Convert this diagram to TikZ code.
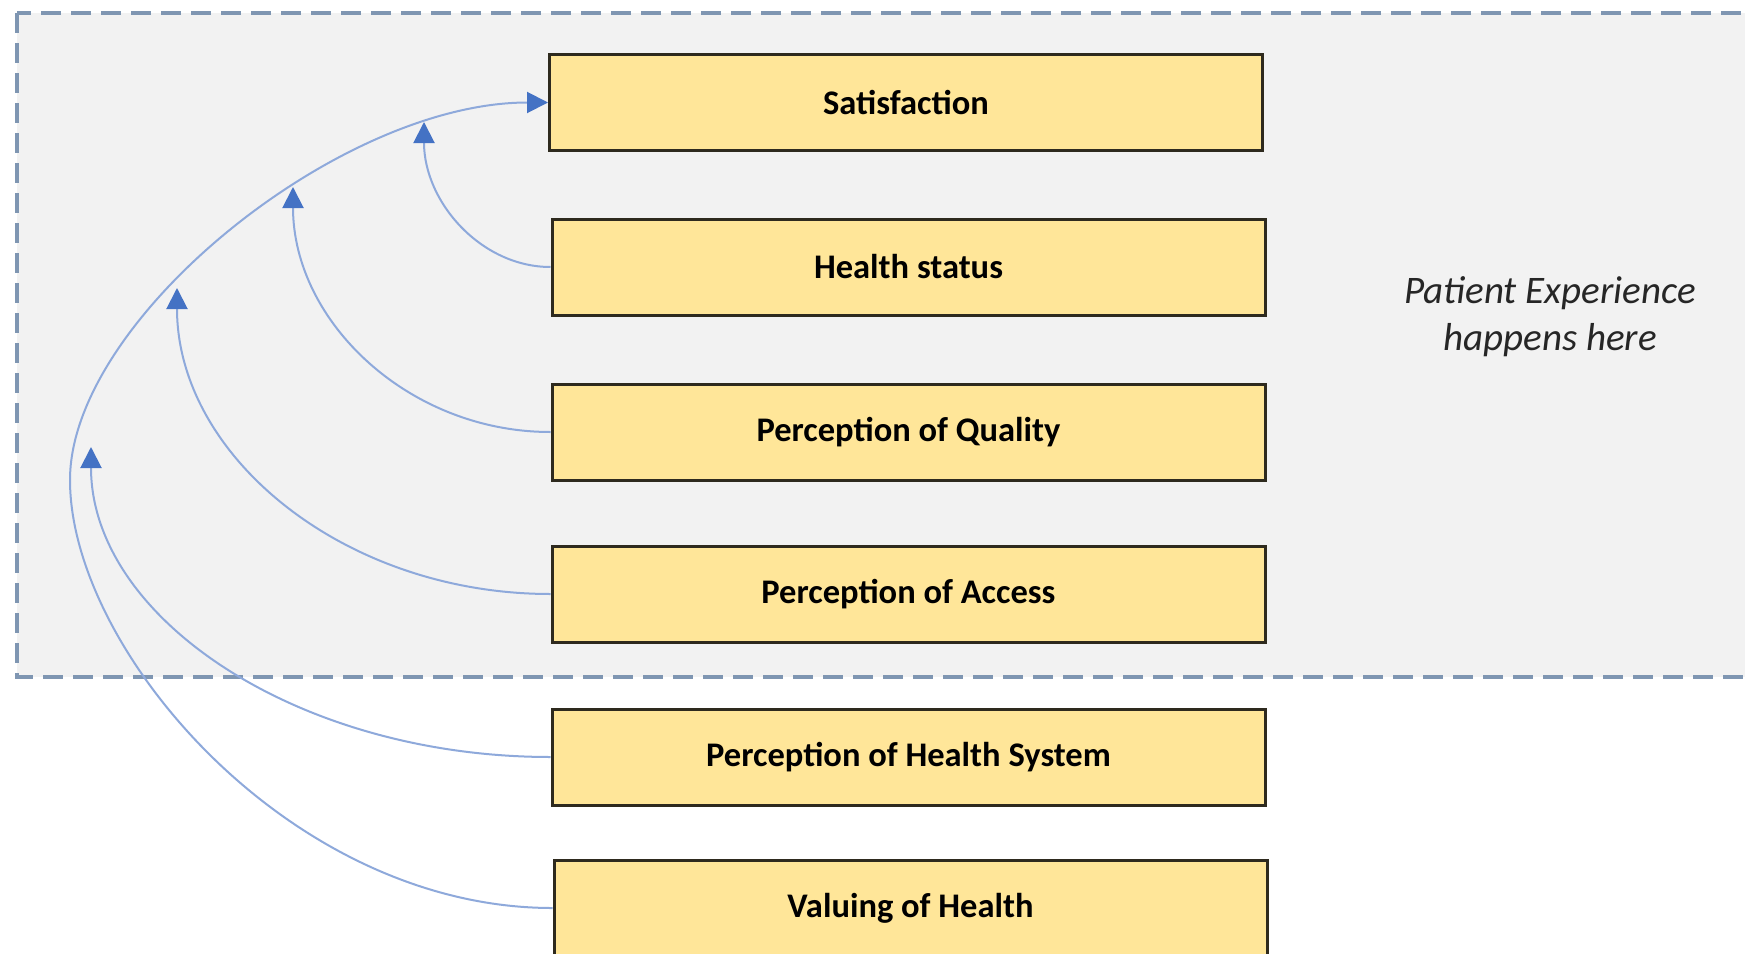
\documentclass[tikz,border=0pt]{standalone}
\usepackage{fontspec}
\setmainfont{Carlito}
\usetikzlibrary{arrows.meta}
\definecolor{boxfill}{HTML}{FFE699}
\definecolor{boxdraw}{HTML}{2E2A1E}
\definecolor{zonefill}{HTML}{F2F2F2}
\definecolor{zonedraw}{HTML}{7F96B2}
\definecolor{linkblue}{HTML}{8EA9DB}
\definecolor{tipblue}{HTML}{4472C4}
\begin{document}
\begin{tikzpicture}[x=1pt,y=-1pt,
  factor/.style={draw=boxdraw, line width=3pt, fill=boxfill, minimum width=713pt, minimum height=96pt,
    font=\fontsize{34.5}{40}\selectfont\bfseries, inner sep=0pt},
  link/.style={draw=linkblue, line width=2pt, -{Triangle[length=21pt,width=21pt,fill=tipblue,color=tipblue]}},
  zone/.style={draw=zonedraw, fill=zonefill, line width=3.5pt, dash pattern=on 20pt off 10pt},
  note/.style={font=\fontsize{39}{47}\selectfont\itshape, text=black!85, align=center}
]
\clip (0,0) rectangle (1745,953);
\fill[white] (0,0) rectangle (1745,953);
\draw[zone] (17,13) rectangle (1790,677);

\node[factor] (sat) at (906,102.5) {Satisfaction};
\node[factor] (hs)  at (908.5,267) {Health status};
\node[factor] (pq)  at (908.5,432) {Perception of Quality};
\node[factor] (pa)  at (908.5,594) {Perception of Access};
\node[factor] (phs) at (908.5,757) {Perception of Health System};
\node[factor] (val) at (910.5,908) {Valuing of Health};

\node[note] (pe) at (1550,317) {Patient Experience\\happens here};

\coordinate (arcl) at (70,480);
\coordinate (t1) at (424,122);
\coordinate (t2) at (293,187);
\coordinate (t3) at (177,288);
\coordinate (t4) at (91,447);

\draw[link] (val.west) .. controls (290,908) and (70,650) .. (arcl)
  .. controls (70,320) and (339,102.5) .. (sat.west);
\draw[link] (hs.west) .. controls (481,267) and (424,202) .. (t1);
\draw[link] (pq.west) .. controls (409,432) and (293,322) .. (t2);
\draw[link] (pa.west) .. controls (345,594) and (177,457) .. (t3);
\draw[link] (phs.west) .. controls (298,757) and (91,618) .. (t4);
\end{tikzpicture}
\end{document}
